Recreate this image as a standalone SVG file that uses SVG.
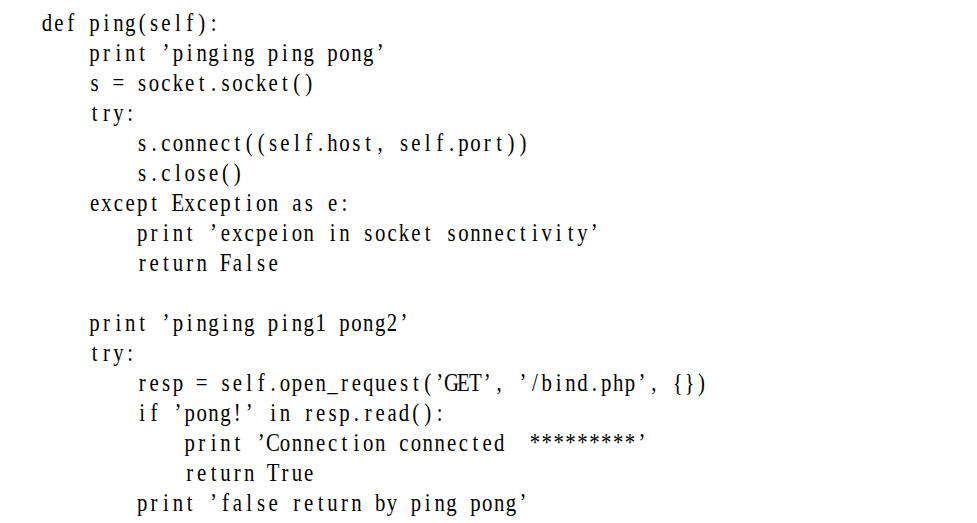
<svg xmlns="http://www.w3.org/2000/svg" width="977" height="523" viewBox="0 0 977 523">
  <style>
    .code { font-family: "Liberation Serif", "Times New Roman", serif; font-size: 24.5px; fill: #000; white-space: pre; text-anchor: middle; }
  </style>
  <rect x="0" y="0" width="977" height="523" fill="#ffffff"/>
  <g id="code" transform="translate(41,0) scale(0.85,1) translate(7,0)" xml:space="preserve">
    <text class="code" y="31" x="0 14 28 42 56 70 84 98 112 126 140 154 168 182 196">def ping(self):</text>
    <text class="code" y="61" x="56 70 84 98 112 126 140 154 168 182 196 210 224 238 252 266 280 294 308 322 336 350 364 378 392">print ’pinging ping pong’</text>
    <text class="code" y="91" x="56 70 84 98 112 126 140 154 168 182 196 210 224 238 252 266 280 294 308">s = socket.socket()</text>
    <text class="code" y="121" x="56 70 84 98">try:</text>
    <text class="code" y="151" x="112 126 140 154 168 182 196 210 224 238 252 266 280 294 308 322 336 350 364 378 392 406 420 434 448 462 476 490 504 518 532 546 560">s.connect((self.host, self.port))</text>
    <text class="code" y="181" x="112 126 140 154 168 182 196 210 224">s.close()</text>
    <text class="code" y="211" x="56 70 84 98 112 126 140 154 168 182 196 210 224 238 252 266 280 294 308 322 336 350">except Exception as e:</text>
    <text class="code" y="241" x="112 126 140 154 168 182 196 210 224 238 252 266 280 294 308 322 336 350 364 378 392 406 420 434 448 462 476 490 504 518 532 546 560 574 588 602 616 630 644">print ’excpeion in socket sonnectivity’</text>
    <text class="code" y="271" x="112 126 140 154 168 182 196 210 224 238 252 266">return False</text>
    <text class="code" y="331" x="56 70 84 98 112 126 140 154 168 182 196 210 224 238 252 266 280 294 308 322 336 350 364 378 392 406 420">print ’pinging ping1 pong2’</text>
    <text class="code" y="361" x="56 70 84 98">try:</text>
    <text class="code" y="391" x="112 126 140 154 168 182 196 210 224 238 252 266 280 294 308 322 336 350 364 378 392 406 420 434 448 462 476 490 504 518 532 546 560 574 588 602 616 630 644 658 672 686 700 714 728 742 756 770">resp = self.open_request(’GET’, ’/bind.php’, {})</text>
    <text class="code" y="421" x="112 126 140 154 168 182 196 210 224 238 252 266 280 294 308 322 336 350 364 378 392 406 420 434 448 462">if ’pong!’ in resp.read():</text>
    <text class="code" y="451" x="168 182 196 210 224 238 252 266 280 294 308 322 336 350 364 378 392 406 420 434 448 462 476 490 504 518 532 546 560 574 588 602 616 630 644 658 672 686 700">print ’Connection connected  *********’</text>
    <text class="code" y="481" x="168 182 196 210 224 238 252 266 280 294 308">return True</text>
    <text class="code" y="511" x="112 126 140 154 168 182 196 210 224 238 252 266 280 294 308 322 336 350 364 378 392 406 420 434 448 462 476 490 504 518 532 546 560">print ’false return by ping pong’</text>
  </g>
</svg>
